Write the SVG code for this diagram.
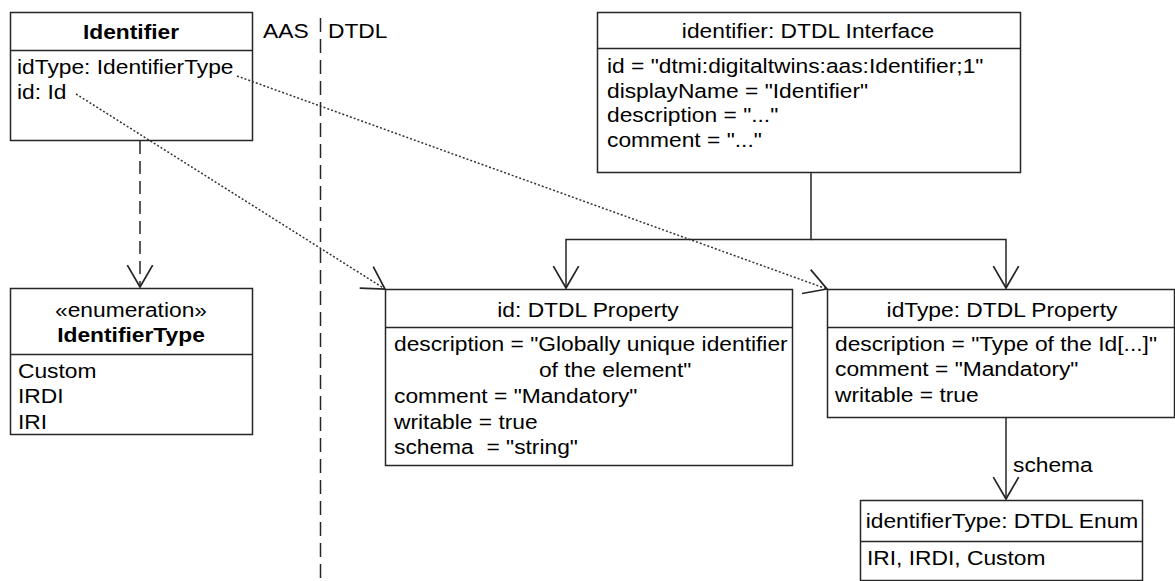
<svg xmlns="http://www.w3.org/2000/svg" width="1175" height="581" viewBox="0 0 1175 581">
  <style>
    .box { fill: #ffffff; stroke: #262626; stroke-width: 1.5; }
    .div { stroke: #262626; stroke-width: 1.5; fill: none; }
    .t { font-family: "Liberation Sans", Arial, sans-serif; font-size: 21px; fill: #000000; white-space: pre; }
    .b { font-weight: bold; }
    .c { text-anchor: middle; }
    .assoc { stroke: #262626; stroke-width: 1.5; fill: none; }
    .dep { stroke: #262626; stroke-width: 1.5; fill: none; stroke-dasharray: 13 7; }
    .map { stroke: #333333; stroke-width: 1.5; fill: none; stroke-dasharray: 2 2; }
    .lane { stroke: #262626; stroke-width: 1.5; fill: none; stroke-dasharray: 14 7; }
  </style>
  <defs>
    <marker id="open" markerUnits="userSpaceOnUse" markerWidth="30" markerHeight="30" viewBox="-22 -13 24 26" refX="0" refY="0" orient="auto">
      <path d="M -19 -11 L 0 0 L -19 11" fill="none" stroke="#262626" stroke-width="1.5"/>
    </marker>
  </defs>

  <rect width="1175" height="581" fill="#ffffff"/>

  <!-- AAS / DTDL separator -->
  <g id="separator">
    <line class="lane" x1="320.5" y1="18" x2="320.5" y2="581"/>
    <text class="t" transform="matrix(1.085 0 0 1 263 38)">AAS</text>
    <text class="t" transform="matrix(1.085 0 0 1 328 38)">DTDL</text>
  </g>

  <!-- AAS class Identifier -->
  <g id="identifier">
    <rect class="box" x="10.5" y="12.5" width="242" height="128"/>
    <line class="div" x1="10.5" y1="50.5" x2="252.5" y2="50.5"/>
    <text class="t b c" transform="matrix(1.085 0 0 1 131 39)">Identifier</text>
    <text class="t" transform="matrix(1.085 0 0 1 17 74)"><tspan x="0" y="0">idType: IdentifierType</tspan><tspan x="0" y="25">id: Id</tspan></text>
  </g>

  <!-- AAS enumeration IdentifierType -->
  <g id="identifierType-enum">
    <rect class="box" x="10.5" y="288.5" width="242" height="146"/>
    <line class="div" x1="10.5" y1="354.5" x2="252.5" y2="354.5"/>
    <text class="t c" transform="matrix(1.085 0 0 1 131 317)">«enumeration»</text>
    <text class="t b c" transform="matrix(1.085 0 0 1 131 342)">IdentifierType</text>
    <text class="t" transform="matrix(1.085 0 0 1 18 378)"><tspan x="0" y="0">Custom</tspan><tspan x="0" y="25.5">IRDI</tspan><tspan x="0" y="51">IRI</tspan></text>
  </g>

  <!-- DTDL Interface -->
  <g id="dtdl-interface">
    <rect class="box" x="597.5" y="12.5" width="423" height="160"/>
    <line class="div" x1="597.5" y1="48.5" x2="1020.5" y2="48.5"/>
    <text class="t c" transform="matrix(1.085 0 0 1 808 38)">identifier: DTDL Interface</text>
    <text class="t" transform="matrix(1.085 0 0 1 607 73)"><tspan x="0" y="0">id = "dtmi:digitaltwins:aas:Identifier;1"</tspan><tspan x="0" y="24.7">displayName = "Identifier"</tspan><tspan x="0" y="49.4">description = "..."</tspan><tspan x="0" y="74.1">comment = "..."</tspan></text>
  </g>

  <!-- DTDL Property id -->
  <g id="dtdl-property-id">
    <rect class="box" x="385.5" y="289.5" width="407" height="176"/>
    <line class="div" x1="385.5" y1="327.5" x2="792.5" y2="327.5"/>
    <text class="t c" transform="matrix(1.085 0 0 1 588 317)">id: DTDL Property</text>
    <text class="t" transform="matrix(1.085 0 0 1 394 351)"><tspan x="0" y="0">description = "Globally unique identifier</tspan><tspan x="133.6" y="26">of the element"</tspan><tspan x="0" y="52">comment = "Mandatory"</tspan><tspan x="0" y="78">writable = true</tspan><tspan x="0" y="103.5">schema  = "string"</tspan></text>
  </g>

  <!-- DTDL Property idType -->
  <g id="dtdl-property-idtype">
    <rect class="box" x="827.5" y="289.5" width="347" height="128"/>
    <line class="div" x1="827.5" y1="327.5" x2="1174.5" y2="327.5"/>
    <text class="t c" transform="matrix(1.085 0 0 1 1002 317)">idType: DTDL Property</text>
    <text class="t" transform="matrix(1.085 0 0 1 835 351)"><tspan x="0" y="0">description = "Type of the Id[...]"</tspan><tspan x="0" y="25.5">comment = "Mandatory"</tspan><tspan x="0" y="51">writable = true</tspan></text>
  </g>

  <!-- DTDL Enum identifierType -->
  <g id="dtdl-enum">
    <rect class="box" x="860.5" y="500.5" width="282" height="80"/>
    <line class="div" x1="860.5" y1="541.5" x2="1142.5" y2="541.5"/>
    <text class="t c" transform="matrix(1.085 0 0 1 1002 528)">identifierType: DTDL Enum</text>
    <text class="t" transform="matrix(1.085 0 0 1 867 565)">IRI, IRDI, Custom</text>
  </g>

  <!-- connectors, drawn over the boxes -->
  <g id="connectors">
    <line class="dep" x1="140" y1="141" x2="140" y2="287" marker-end="url(#open)"/>
    <line class="map" x1="76" y1="94" x2="385" y2="289" marker-end="url(#open)"/>
    <line class="map" x1="237" y1="76" x2="827" y2="289" marker-end="url(#open)"/>
    <path class="assoc" d="M 811 172 V 239.5 H 566 V 288" marker-end="url(#open)"/>
    <path class="assoc" d="M 811 239.5 H 1006 V 288" marker-end="url(#open)"/>
    <line class="assoc" x1="1006" y1="418" x2="1006" y2="499" marker-end="url(#open)"/>
    <text class="t" transform="matrix(1.085 0 0 1 1013 472)">schema</text>
  </g>
</svg>
